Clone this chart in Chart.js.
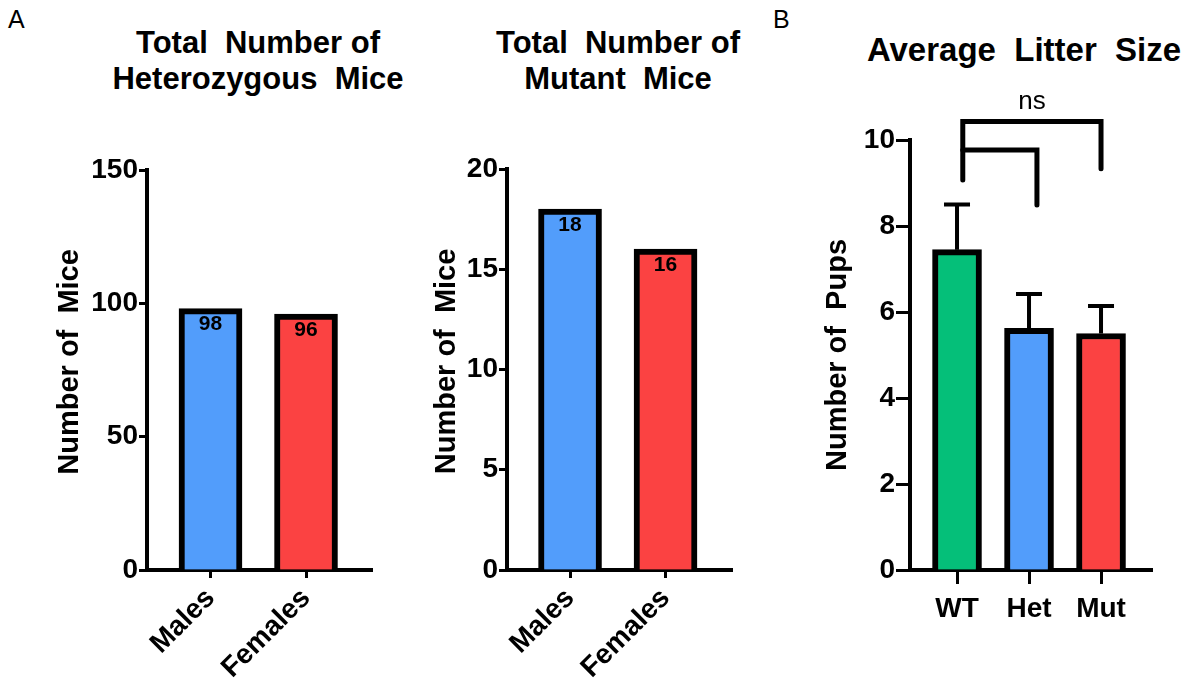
<!DOCTYPE html>
<html>
<head>
<meta charset="utf-8">
<script src="https://cdn.jsdelivr.net/npm/chart.js@4.4.0/dist/chart.umd.min.js"></script>
<style>
  body { margin: 0; background: #fff; width: 1194px; height: 690px; position: relative; overflow: hidden;
         font-family: 'Liberation Sans', Arial, sans-serif; color: #000; }
  canvas { position: absolute; top: 0; }
  .panel { position: absolute; font-size: 25px; line-height: 25px; }
  .title { position: absolute; width: 420px; text-align: center; font-weight: bold; white-space: pre; }
</style>
</head>
<body>
<div class="panel" style="left:8px; top:7px">A</div>
<div class="panel" style="left:773px; top:7px">B</div>
<div class="title" style="left:48px; top:25px; font-size:31px; line-height:36px">Total  Number of
Heterozygous  Mice</div>
<div class="title" style="left:408px; top:25px; font-size:31px; line-height:36px">Total  Number of
Mutant  Mice</div>
<div class="title" style="left:814px; top:32px; font-size:33px; line-height:36px">Average  Litter  Size</div>

<canvas id="het" width="390" height="690" style="left:0px"></canvas>
<canvas id="mut" width="370" height="690" style="left:390px"></canvas>
<canvas id="litter" width="434" height="690" style="left:760px"></canvas>

<script>
// data
var sexLabels = ['Males', 'Females'];
var hetCounts = [98, 96];
var mutCounts = [18, 16];
var sexColors = ['#529dfb', '#fb4242'];

var genotypes = ['WT', 'Het', 'Mut'];
var litterMeans = [7.45, 5.62, 5.5];
var litterErrors = [1.05, 0.8, 0.64];
var genoColors = ['#05bf79', '#529dfb', '#fb4242'];

// significance brackets, [category index, value] points
var bracketOuter = [[0.08, 9.07], [0.08, 10.43], [2.0, 10.43], [2.0, 9.33]];
var bracketInner = [[0.08, 9.77], [1.11, 9.77], [1.11, 8.49]];
var bracketText = 'ns';

Chart.defaults.font.family = "'Liberation Sans', Arial, sans-serif";
Chart.defaults.color = '#000';

function points(values) {
  return values.map(function (v, i) { return { x: i, y: v }; });
}

function yAxis(max, step, title, width, titlePad, tickLen) {
  return {
    min: 0, max: max,
    ticks: { stepSize: step, font: { size: 28, weight: 'bold' }, color: '#000', padding: 1 },
    grid: { display: true, drawOnChartArea: false, drawTicks: true, tickLength: tickLen, tickWidth: 3, tickColor: '#000' },
    border: { display: true, color: '#000', width: 4 },
    title: { display: true, text: title, color: '#000', font: { size: 29, weight: 'bold' }, padding: { top: titlePad } },
    afterFit: function (s) { s.width = width; }
  };
}

function xAxis(labels, min, max, rot, tickLen, pad) {
  return {
    type: 'linear', min: min, max: max, offset: false,
    afterBuildTicks: function (s) { s.ticks = labels.map(function (l, i) { return { value: i }; }); },
    ticks: {
      callback: function (v) { return labels[v]; },
      autoSkip: false, minRotation: rot, maxRotation: rot,
      font: { size: 28, weight: 'bold' }, color: '#000', padding: pad
    },
    grid: { display: true, offset: false, drawOnChartArea: false, drawTicks: true, tickLength: tickLen, tickWidth: 3, tickColor: '#000' },
    border: { display: true, color: '#000', width: 4 },
    afterFit: function (s) { s.height = 120; }
  };
}

// numbers written inside the top of each bar
var valueLabels = {
  id: 'valueLabels',
  afterDatasetsDraw: function (chart) {
    var ctx = chart.ctx;
    var ds = chart.data.datasets[0];
    ctx.save();
    ctx.font = "bold 21px 'Liberation Sans', Arial, sans-serif";
    ctx.textAlign = 'center';
    ctx.textBaseline = 'middle';
    ctx.fillStyle = '#000';
    chart.getDatasetMeta(0).data.forEach(function (bar, i) {
      ctx.fillText(ds.data[i].y, bar.x, bar.y + 16);
    });
    ctx.restore();
  }
};

// upper error bars and the ns brackets
var errorBars = {
  id: 'errorBars',
  afterDatasetsDraw: function (chart) {
    var ctx = chart.ctx;
    var xs = chart.scales.x, ys = chart.scales.y;
    ctx.save();
    ctx.strokeStyle = '#000';
    ctx.lineWidth = 4;
    chart.getDatasetMeta(0).data.forEach(function (bar, i) {
      var top = ys.getPixelForValue(litterMeans[i] + litterErrors[i]);
      ctx.beginPath();
      ctx.moveTo(bar.x, bar.y);
      ctx.lineTo(bar.x, top);
      ctx.moveTo(bar.x - 13, top);
      ctx.lineTo(bar.x + 13, top);
      ctx.stroke();
    });
    ctx.lineWidth = 5;
    ctx.lineCap = 'round';
    ctx.lineJoin = 'miter';
    [bracketOuter, bracketInner].forEach(function (br) {
      ctx.beginPath();
      br.forEach(function (p, j) {
        var px = xs.getPixelForValue(p[0]), py = ys.getPixelForValue(p[1]);
        if (j === 0) ctx.moveTo(px, py); else ctx.lineTo(px, py);
      });
      ctx.stroke();
    });
    ctx.font = "26px 'Liberation Sans', Arial, sans-serif";
    ctx.textAlign = 'center';
    ctx.textBaseline = 'alphabetic';
    ctx.fillStyle = '#000';
    var mid = (bracketOuter[1][0] + bracketOuter[2][0]) / 2;
    ctx.fillText(bracketText, xs.getPixelForValue(mid), ys.getPixelForValue(bracketOuter[1][1]) - 13);
    ctx.restore();
  }
};

function barChart(id, values, colors, thickness, opts, plugins) {
  return new Chart(document.getElementById(id), {
    type: 'bar',
    data: {
      datasets: [{
        data: points(values),
        backgroundColor: colors,
        borderColor: '#000',
        borderWidth: 6,
        barThickness: thickness
      }]
    },
    options: {
      responsive: false,
      animation: false,
      devicePixelRatio: 1,
      layout: { padding: { top: opts.top, right: opts.right, left: 0, bottom: 0 } },
      plugins: { legend: { display: false }, tooltip: { enabled: false } },
      scales: { x: opts.x, y: opts.y }
    },
    plugins: plugins
  });
}

barChart('het', hetCounts, sexColors, 63, {
  top: 170, right: 18,
  x: xAxis(sexLabels, -0.665, 1.691, 45, 8, 4),
  y: yAxis(150, 50, '  Number of  Mice', 147, 53, 8)
}, [valueLabels]);

barChart('mut', mutCounts, sexColors, 63, {
  top: 169, right: 28,
  x: xAxis(sexLabels, -0.66, 1.696, 45, 8, 4),
  y: yAxis(20, 5, '  Number of  Mice', 117, 40, 8)
}, [valueLabels]);

barChart('litter', litterMeans, genoColors, 49, {
  top: 140, right: 42,
  x: xAxis(genotypes, -0.653, 2.708, 0, 14, 8),
  y: yAxis(10, 2, 'Number of  Pups', 150, 61, 14)
}, [errorBars]);
</script>
</body>
</html>
